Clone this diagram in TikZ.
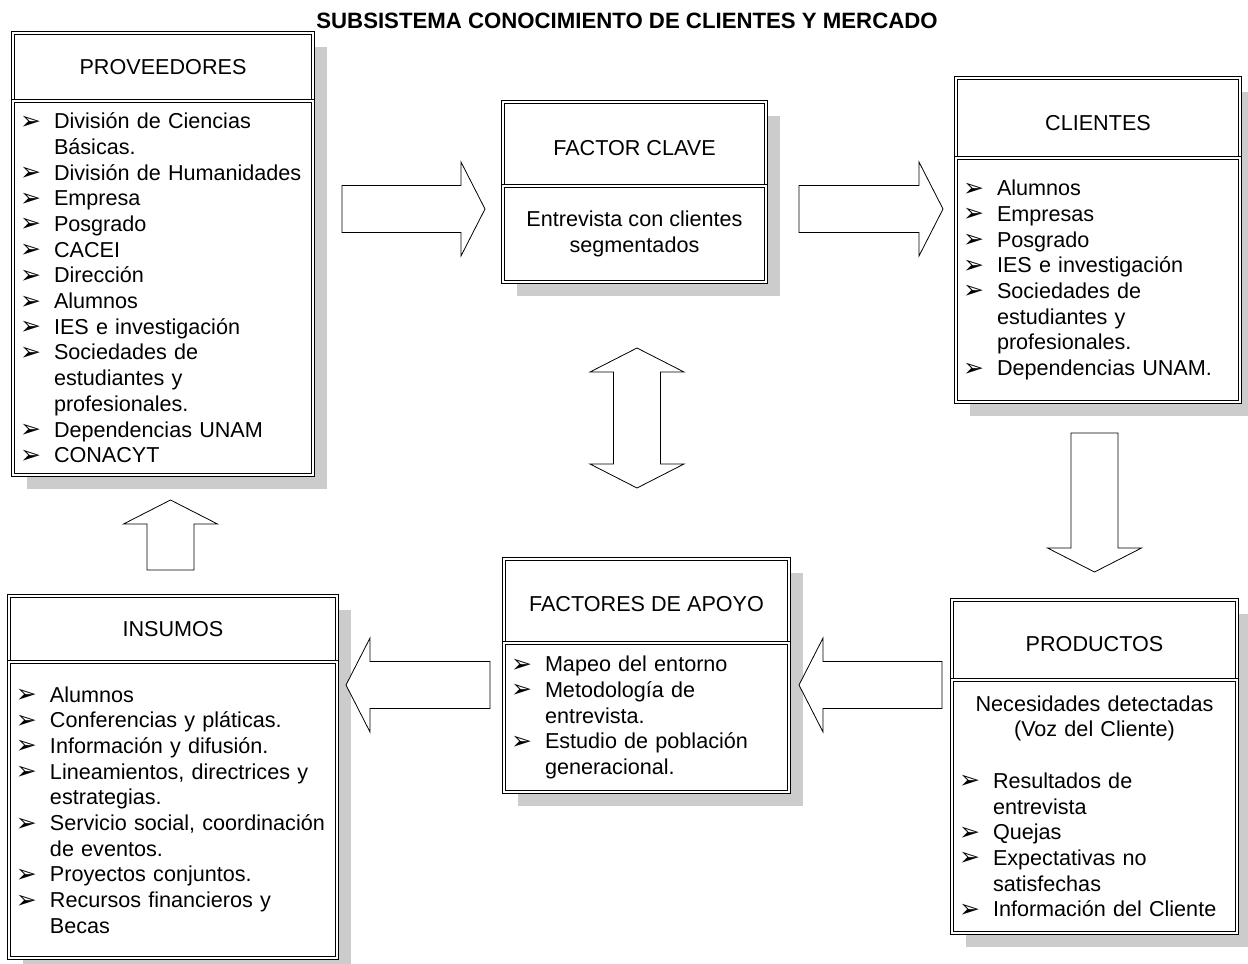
\documentclass[tikz,border=0pt]{standalone}
\usepackage{fontspec}
\setmainfont{Liberation Sans}
\newfontfamily\dingfont{DejaVu Sans}
\usetikzlibrary{calc,backgrounds}

% list item helpers: arrowhead bullet, hanging continuation lines
\newcommand\bul{\makebox[34pt][l]{\raisebox{-0.5pt}{\dingfont\fontsize{25}{25}\selectfont ➢}}}
\newcommand\itm[1]{\bul#1}
\newcommand\cnt[1]{\hspace*{34pt}#1}
% header label set a little below the box centre
\newcommand\low[2]{\raisebox{-#1pt}[\height][\depth]{#2}}

\tikzset{
  txt/.style={font=\fontsize{21.6}{25.7}\selectfont},
  frame/.style={txt, draw=black, line width=0.8pt, double=white,
    double distance=2pt, fill=white, inner sep=0pt, outer sep=0pt},
  hdr/.style={frame, align=center},
  lst/.style={frame, inner xsep=7pt, align=left},
  shade/.style={fill=black!20},
  arrowline/.style={draw=black, fill=white, line width=0.8pt, line join=miter},
  pics/blockarrow/.style={code={
    \draw[arrowline] (0,-23.5) -- ({#1-24},-23.5) -- ({#1-24},-47) -- (#1,0)
      -- ({#1-24},47) -- ({#1-24},23.5) -- (0,23.5) -- cycle;
  }},
  pics/dblockarrow/.style={code={
    \draw[arrowline] (24,-23.5) -- ({#1-24},-23.5) -- ({#1-24},-47) -- (#1,0)
      -- ({#1-24},47) -- ({#1-24},23.5) -- (24,23.5) -- (24,47) -- (0,0)
      -- (24,-47) -- cycle;
  }}
}

\begin{document}
\begin{tikzpicture}[x=1pt, y=-1pt]
\useasboundingbox (0,0) rectangle (1248,964);

\node[font=\bfseries\fontsize{22.2}{26}\selectfont] (title) at (627,21)
  {SUBSISTEMA CONOCIMIENTO DE CLIENTES Y MERCADO};

% PROVEEDORES
\node[hdr, minimum width=300pt, minimum height=68pt, anchor=north] (provH) at (163,33) {PROVEEDORES};
\node[lst, minimum width=300pt, minimum height=374pt, text width=286pt, anchor=north] (provB) at (provH.south) {%
\itm{División de Ciencias}\\
\cnt{Básicas.}\\
\itm{División de Humanidades}\\
\itm{Empresa}\\
\itm{Posgrado}\\
\itm{CACEI}\\
\itm{Dirección}\\
\itm{Alumnos}\\
\itm{IES e investigación}\\
\itm{Sociedades de}\\
\cnt{estudiantes y}\\
\cnt{profesionales.}\\
\itm{Dependencias UNAM}\\
\itm{CONACYT}};

% FACTOR CLAVE
\node[hdr, minimum width=263pt, minimum height=84pt, anchor=north] (fcH) at (634.5,102) {\low{4}{FACTOR CLAVE}};
\node[hdr, minimum width=263pt, minimum height=96pt, anchor=north] (fcB) at (fcH.south)
  {Entrevista con clientes\\segmentados};

% CLIENTES
\node[hdr, minimum width=284pt, minimum height=80pt, anchor=north] (cliH) at (1098,78) {\low{5}{CLIENTES}};
\node[lst, minimum width=284pt, minimum height=244pt, text width=270pt, anchor=north] (cliB) at (cliH.south) {%
\itm{Alumnos}\\
\itm{Empresas}\\
\itm{Posgrado}\\
\itm{IES e investigación}\\
\itm{Sociedades de}\\
\cnt{estudiantes y}\\
\cnt{profesionales.}\\
\itm{Dependencias UNAM.}};

% PRODUCTOS
\node[hdr, minimum width=285pt, minimum height=80pt, anchor=north] (prodH) at (1094.5,600) {\low{4}{PRODUCTOS}};
\node[lst, minimum width=285pt, minimum height=253pt, text width=271pt, anchor=north] (prodB) at (prodH.south) {%
\makebox[271pt]{Necesidades detectadas}\\
\makebox[271pt]{(Voz del Cliente)}\\
\mbox{}\\
\itm{Resultados de}\\
\cnt{entrevista}\\
\itm{Quejas}\\
\itm{Expectativas no}\\
\cnt{satisfechas}\\
\itm{Información del Cliente}};

% FACTORES DE APOYO
\node[hdr, minimum width=285pt, minimum height=84pt, anchor=north] (facH) at (646.5,559) {\low{3}{FACTORES DE APOYO}};
\node[lst, minimum width=285pt, minimum height=149pt, text width=271pt, anchor=north] (facB) at (facH.south) {%
\itm{Mapeo del entorno}\\
\itm{Metodología de}\\
\cnt{entrevista.}\\
\itm{Estudio de población}\\
\cnt{generacional.}};

% INSUMOS
\node[hdr, minimum width=328pt, minimum height=66pt, anchor=north] (insH) at (173,596) {INSUMOS};
\node[lst, minimum width=328pt, minimum height=296pt, text width=314pt, anchor=north] (insB) at (insH.south) {%
\itm{Alumnos}\\
\itm{Conferencias y pláticas.}\\
\itm{Información y difusión.}\\
\itm{Lineamientos, directrices y}\\
\cnt{estrategias.}\\
\itm{Servicio social, coordinación}\\
\cnt{de eventos.}\\
\itm{Proyectos conjuntos.}\\
\itm{Recursos financieros y}\\
\cnt{Becas}};

% drop shadows behind each two-part box
\begin{scope}[on background layer]
\foreach \h/\b in {provH/provB, fcH/fcB, cliH/cliB, prodH/prodB, facH/facB, insH/insB}
  \fill[shade] ([shift={(14,14)}]\h.north west) rectangle ([shift={(14,14)}]\b.south east);
\end{scope}

% block arrows between the boxes (tail points)
\coordinate (a1) at (342,209);
\coordinate (a2) at (799,209);
\coordinate (a3) at (1094.5,433);
\coordinate (a4) at (942,685);
\coordinate (a5) at (490,685);
\coordinate (a6) at (170.5,570);
\coordinate (a7) at (637,488);

\pic at (a1) {blockarrow=143};
\pic at (a2) {blockarrow=144};
\pic[rotate=-90] at (a3) {blockarrow=139};
\pic[rotate=180] at (a4) {blockarrow=143};
\pic[rotate=180] at (a5) {blockarrow=144};
\pic[rotate=90] at (a6) {blockarrow=70};
\pic[rotate=90] at (a7) {dblockarrow=140};
\end{tikzpicture}
\end{document}
